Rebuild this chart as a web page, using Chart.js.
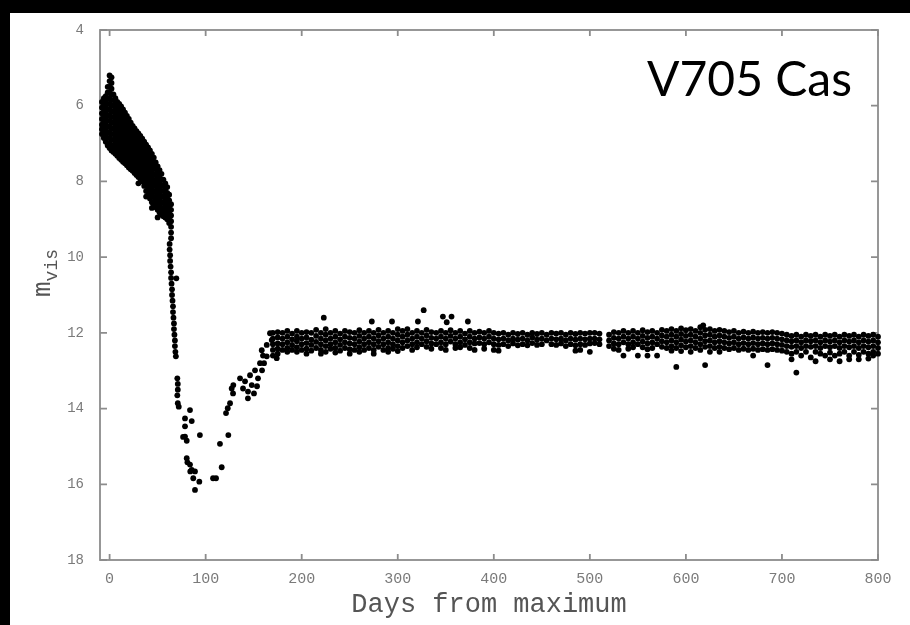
<!DOCTYPE html>
<html><head><meta charset="utf-8">
<script src="https://cdn.jsdelivr.net/npm/chart.js@4.4.1/dist/chart.umd.min.js"></script>
<style>
html,body{margin:0;padding:0;background:#000;width:910px;height:625px;overflow:hidden;}
#wrap{position:absolute;left:10px;top:13px;width:900px;height:612px;background:#fff;}
canvas{display:block;}
</style></head><body>
<div id="wrap"><canvas id="c" width="900" height="612"></canvas></div>
<script>
// ---- tick labels ----
const xTicks = [0, 100, 200, 300, 400, 500, 600, 700, 800];
const yTicks = [4, 6, 8, 10, 12, 14, 16, 18];
const xTitle = 'Days from maximum';
const yTitleMain = 'm';
const yTitleSub = 'vis';
const starName = 'V705 Cas';

// ---- early bright phase: day columns and magnitudes ----
const earlyDays = [-8,-6,-4,-2,0,2,4,6,8,10,12,14,16,18,20,22,24,26,28,30,32,34,36,38,40,42,44,46,48,50,52,54,56,58,60,62,64];
const earlyMags = [
  [5.9,6.05,6.2,6.35,6.5,6.62,6.75],
  [5.8,5.95,6.1,6.25,6.4,6.55,6.7,6.85],
  [5.75,5.9,6.05,6.2,6.35,6.5,6.65,6.8,6.95],
  [5.5,5.65,5.8,5.95,6.1,6.25,6.4,6.55,6.7,6.85,7.05],
  [5.2,5.35,5.5,5.65,5.8,5.95,6.1,6.25,6.4,6.55,6.7,6.85,7.0,7.12],
  [5.25,5.4,5.55,5.7,5.85,6.0,6.15,6.3,6.45,6.6,6.75,6.9,7.05,7.18],
  [5.7,5.85,6.0,6.15,6.3,6.45,6.6,6.75,6.9,7.05,7.22],
  [5.8,5.95,6.1,6.25,6.4,6.55,6.7,6.85,7.0,7.15,7.27],
  [5.9,6.05,6.2,6.35,6.5,6.65,6.8,6.95,7.1,7.2,7.32],
  [5.95,6.1,6.25,6.4,6.55,6.7,6.85,7.0,7.15,7.25,7.38],
  [6.02,6.17,6.32,6.47,6.62,6.77,6.92,7.07,7.22,7.32,7.43],
  [6.1,6.25,6.4,6.55,6.7,6.85,7.0,7.15,7.3,7.48],
  [6.18,6.33,6.48,6.63,6.78,6.93,7.08,7.23,7.38,7.52],
  [6.27,6.42,6.57,6.72,6.87,7.02,7.17,7.32,7.45,7.57],
  [6.35,6.5,6.65,6.8,6.95,7.1,7.25,7.4,7.52,7.63],
  [6.45,6.6,6.75,6.9,7.05,7.2,7.35,7.5,7.68],
  [6.53,6.68,6.83,6.98,7.13,7.28,7.43,7.58,7.72],
  [6.6,6.75,6.9,7.05,7.2,7.35,7.5,7.65,7.78],
  [6.67,6.82,6.97,7.12,7.27,7.42,7.57,7.72,7.83],
  [6.73,6.88,7.03,7.18,7.33,7.48,7.63,7.78,7.88,8.05],
  [6.8,6.95,7.1,7.25,7.4,7.55,7.7,7.85,7.93],
  [6.87,7.02,7.17,7.32,7.47,7.62,7.77,7.9,8.0],
  [6.95,7.1,7.25,7.4,7.55,7.7,7.85,8.0,8.12],
  [7.03,7.18,7.33,7.48,7.63,7.78,7.93,8.08,8.25,8.4],
  [7.1,7.25,7.4,7.55,7.7,7.85,8.0,8.15,8.35],
  [7.18,7.33,7.48,7.63,7.78,7.93,8.08,8.23,8.45],
  [7.27,7.42,7.57,7.72,7.87,8.02,8.17,8.32,8.55,8.7],
  [7.37,7.52,7.67,7.82,7.97,8.12,8.27,8.42,8.62],
  [7.5,7.65,7.8,7.95,8.1,8.25,8.4,8.55,8.68],
  [7.6,7.75,7.9,8.05,8.2,8.35,8.5,8.65,8.75,8.95],
  [7.7,7.85,8.0,8.15,8.3,8.45,8.6,8.72,8.82],
  [7.8,7.95,8.1,8.25,8.4,8.55,8.7,8.88],
  [7.95,8.1,8.25,8.4,8.55,8.7,8.82,8.92],
  [8.05,8.2,8.35,8.5,8.65,8.8,8.95],
  [8.15,8.3,8.45,8.6,8.75,8.9,9.0],
  [8.35,8.5,8.65,8.8,8.95,9.1],
  [8.6,8.75,8.9,9.05,9.2,9.35,9.5]
];

// ---- steep decline into the dust dip ----
const declineDays = [62.5,62.5,63,63,63.5,64,64,64.5,65,65,65.5,66,66,66.5,67,67,67.5,68,68,68.5,69,69.5];
const declineMags = [9.65,9.8,9.95,10.1,10.25,10.4,10.55,10.7,10.85,11.0,11.15,11.3,11.45,11.6,11.75,11.9,12.05,12.2,12.35,12.5,12.62,10.56];

// ---- deep minimum (scattered) ----
const dipDays = [70.5,71,71,70.5,71,72,76.5,78.5,78.5,83.7,85.5,94,78.5,80.3,80.3,81,83.7,85.5,84,88.9,87.1,93.4,88.9,107.7,110.8,116.7,114.9,123.6,121.2,123,125.4,127.1,128.8];
const dipMags = [13.2,13.35,13.5,13.65,13.86,13.95,14.75,14.26,14.47,14.04,14.33,14.7,14.74,14.85,15.31,15.42,15.48,15.62,15.66,15.66,15.84,15.93,16.15,15.84,15.84,15.55,14.93,14.7,14.12,13.99,13.86,13.47,13.38];

// ---- recovery to the plateau ----
const riseDays = [128.5,135.8,138.9,141,144.1,144,146.2,148,150.3,151.4,153.5,154.5,156.6,158.4,158.7,159.7,160.8,163.6,163.6,167,168.8,174];
const riseMags = [13.6,13.2,13.47,13.28,13.55,13.73,13.12,13.38,13.6,12.99,13.41,13.2,12.8,12.46,12.99,12.6,12.8,12.32,12.62,12.01,12.19,12.67];

// ---- long plateau: day columns and magnitudes ----
const plateauDays = [170,175,180,185,190,195,200,205,210,215,220,225,230,235,240,245,250,255,260,265,270,275,280,285,290,295,300,
  305,310,315,320,325,330,335,340,345,350,355,360,365,370,375,380,385,390,395,400,
  405,410,415,420,425,430,435,440,445,450,455,460,465,470,475,480,485,490,495,500,505,510,
  520,525,530,535,540,545,550,555,560,565,570,575,580,585,590,595,600,605,610,615,620,625,630,635,640,645,650,655,660,665,670,675,680,685,690,695,700,
  705,710,715,720,725,730,735,740,745,750,755,760,765,770,775,780,785,790,795,800];
const plateauMags = [
  [12.0,12.15,12.3,12.45,12.6],[11.98,12.12,12.28,12.42,12.55],[12.0,12.15,12.3,12.45],[11.95,12.1,12.25,12.4,12.5],
  [12.02,12.17,12.32,12.45],[11.95,12.1,12.22,12.38,12.5],[12.0,12.15,12.3,12.45],[11.98,12.12,12.27,12.42,12.55],
  [12.0,12.18,12.32,12.47],[11.92,12.08,12.24,12.4],[12.0,12.15,12.3,12.45,12.55],[11.9,12.05,12.2,12.35,12.5],
  [12.0,12.15,12.3,12.42],[11.95,12.1,12.25,12.4,12.52],[12.02,12.17,12.32,12.47],[11.95,12.1,12.25,12.4],
  [11.98,12.13,12.28,12.43,12.55],[12.0,12.15,12.3,12.45],[11.93,12.08,12.23,12.38,12.5],[12.0,12.15,12.3,12.45],
  [11.95,12.1,12.25,12.4],[12.0,12.15,12.3,12.45,12.55],[11.92,12.07,12.22,12.37],[12.0,12.15,12.3,12.45],
  [11.95,12.1,12.25,12.4,12.5],[12.0,12.15,12.3,12.42],[11.9,12.05,12.2,12.35,12.48],
  [11.95,12.1,12.25,12.4],[11.9,12.05,12.2,12.35],[12.0,12.15,12.3,12.45],[11.95,12.1,12.25,12.38],[12.0,12.15,12.3],
  [11.92,12.07,12.22,12.37],[11.98,12.13,12.28,12.42],[12.0,12.15,12.3],[11.95,12.1,12.25,12.4],[12.0,12.15,12.3,12.45],
  [11.93,12.08,12.23],[12.0,12.15,12.3,12.4],[11.95,12.1,12.25,12.38],[12.02,12.17,12.32],[11.95,12.1,12.25,12.4],
  [12.0,12.15,12.28,12.45],[11.97,12.12,12.27],[12.0,12.15,12.3,12.42],[11.95,12.1,12.25],[12.0,12.15,12.3,12.45],
  [12.02,12.17,12.32,12.47],[12.0,12.15,12.3],[12.05,12.2,12.35],[12.0,12.15,12.28],[12.03,12.18,12.33],
  [12.0,12.15,12.3],[12.05,12.2,12.33],[12.0,12.12,12.27],[12.03,12.18,12.32],[12.0,12.15,12.3],[12.05,12.2],
  [12.0,12.15,12.3],[12.02,12.17,12.32],[12.0,12.15,12.28],[12.05,12.2,12.35],[12.0,12.15,12.3],
  [12.03,12.18,12.33,12.47],[12.0,12.15,12.3,12.45],[12.02,12.17,12.32],[12.0,12.15,12.28,12.5],
  [12.0,12.15,12.27],[12.02,12.17,12.3],
  [12.05,12.2,12.35],[11.98,12.13,12.28,12.42],[12.0,12.15,12.3,12.45],[11.95,12.1,12.25,12.6],[12.0,12.15,12.3,12.42],
  [11.95,12.1,12.25,12.38],[12.0,12.15,12.3,12.6],[11.93,12.08,12.23,12.38],[11.98,12.13,12.28,12.43,12.6],
  [11.95,12.1,12.25,12.4],[12.0,12.15,12.3,12.6],[11.92,12.07,12.22,12.37],[11.95,12.1,12.25,12.4],
  [11.9,12.05,12.2,12.35,12.47],[11.95,12.1,12.25,12.4,12.9],[11.88,12.03,12.18,12.33,12.48],[11.93,12.08,12.23,12.38],
  [11.9,12.05,12.2,12.35,12.5],[11.95,12.1,12.25,12.4],[11.85,12.0,12.15,12.3,12.45],[11.92,12.07,12.22,12.37,12.85],
  [11.9,12.05,12.2,12.35,12.5],[11.95,12.1,12.25,12.4],[11.92,12.07,12.22,12.37,12.5],[11.95,12.1,12.25,12.4],
  [11.98,12.13,12.28,12.43],[11.95,12.1,12.25,12.4],[12.0,12.15,12.3,12.45],[11.97,12.12,12.27,12.42],
  [12.0,12.15,12.3,12.45],[11.97,12.12,12.27,12.42,12.6],[12.0,12.15,12.3,12.45],[11.98,12.13,12.28,12.43],
  [12.0,12.15,12.3,12.45,12.85],[11.98,12.13,12.28,12.43],[12.0,12.15,12.3,12.45],[12.02,12.17,12.32,12.47],
  [12.05,12.2,12.35,12.5],[12.08,12.22,12.37,12.55,12.7],[12.05,12.2,12.35,12.5,13.05],[12.1,12.25,12.4,12.6],
  [12.05,12.2,12.35,12.5],[12.08,12.22,12.37,12.65],[12.05,12.2,12.35,12.5,12.75],[12.1,12.25,12.4,12.55],
  [12.05,12.2,12.35,12.6],[12.08,12.23,12.38,12.52,12.7],[12.05,12.2,12.35,12.6],[12.1,12.25,12.4,12.55,12.75],
  [12.05,12.2,12.35,12.5],[12.08,12.23,12.38,12.6,12.7],[12.05,12.2,12.35,12.5],[12.1,12.25,12.4,12.58,12.7],
  [12.05,12.2,12.35,12.5],[12.08,12.23,12.38,12.55,12.68],[12.05,12.2,12.35,12.5,12.6],[12.1,12.25,12.4,12.55]
];

// ---- bright outliers above the plateau ----
const outlierDays = [223,273,294,321,327,347,351,356,373,618];
const outlierMags = [11.6,11.7,11.7,11.7,11.4,11.57,11.72,11.57,11.7,11.8];

// ---- assemble points ----
const pts = [];
earlyDays.forEach((d, i) => earlyMags[i].forEach(m => pts.push({x: d, y: m})));
declineDays.forEach((d, i) => pts.push({x: d, y: declineMags[i]}));
dipDays.forEach((d, i) => pts.push({x: d, y: dipMags[i]}));
riseDays.forEach((d, i) => pts.push({x: d, y: riseMags[i]}));
plateauDays.forEach((d, i) => plateauMags[i].forEach(m => pts.push({x: d, y: m})));
outlierDays.forEach((d, i) => pts.push({x: d, y: outlierMags[i]}));

const FRAME = '#8c8c8c';
const LABEL = '#7a7a7a';

const framePlugin = {
  id: 'frame',
  beforeDatasetsDraw(chart) {
    const {ctx, chartArea: a, scales: {x, y}} = chart;
    ctx.save();
    ctx.strokeStyle = FRAME;
    ctx.lineWidth = 1.8;
    ctx.strokeRect(a.left, a.top, a.right - a.left, a.bottom - a.top);
    ctx.beginPath();
    xTicks.forEach(v => {
      const px = x.getPixelForValue(v);
      ctx.moveTo(px, a.bottom); ctx.lineTo(px, a.bottom - 6);
      ctx.moveTo(px, a.top); ctx.lineTo(px, a.top + 6);
    });
    yTicks.forEach(v => {
      const py = y.getPixelForValue(v);
      ctx.moveTo(a.left, py); ctx.lineTo(a.left + 7, py);
      ctx.moveTo(a.right, py); ctx.lineTo(a.right - 7, py);
    });
    ctx.stroke();
    ctx.restore();
  },
  afterDraw(chart) {
    const {ctx, chartArea: a} = chart;
    ctx.save();
    // y-axis title with subscript, rotated
    ctx.translate(a.left - 50, (a.top + a.bottom) / 2 - 12);
    ctx.rotate(-Math.PI / 2);
    ctx.fillStyle = '#555';
    ctx.textBaseline = 'alphabetic';
    ctx.textAlign = 'left';
    ctx.font = '26px "Liberation Mono", monospace';
    ctx.fillText(yTitleMain, -14, 0);
    const mw = ctx.measureText(yTitleMain).width;
    ctx.font = '18px "Liberation Mono", monospace';
    ctx.fillText(yTitleSub, -14 + mw, 7);
    ctx.restore();
    // star label inside the plot
    ctx.save();
    ctx.fillStyle = '#000';
    ctx.font = '48px Lato, "Open Sans", sans-serif';
    ctx.textAlign = 'right';
    ctx.textBaseline = 'alphabetic';
    ctx.fillText(starName, a.right - 26, a.top + 66);
    ctx.restore();
  }
};

new Chart(document.getElementById('c'), {
  type: 'scatter',
  data: {
    datasets: [{
      label: starName,
      data: pts,
      backgroundColor: '#000',
      borderWidth: 0,
      pointRadius: 2.9,
      pointHoverRadius: 2.9,
      clip: false
    }]
  },
  options: {
    responsive: false,
    devicePixelRatio: 1,
    animation: false,
    events: [],
    layout: { padding: { left: 0, top: 17, right: 32, bottom: 0 } },
    plugins: { legend: { display: false }, tooltip: { enabled: false }, title: { display: false } },
    scales: {
      x: {
        type: 'linear', min: -10, max: 800,
        afterBuildTicks: s => { s.ticks = xTicks.map(v => ({ value: v })); },
        afterFit: s => { s.height = 65; },
        grid: { display: false },
        border: { display: false },
        ticks: { color: LABEL, padding: 2, maxRotation: 0, autoSkip: false,
                 font: { family: '"Liberation Mono", monospace', size: 15 } },
        title: { display: true, text: xTitle, color: '#555',
                 font: { family: '"Liberation Mono", monospace', size: 27 },
                 padding: { top: 0, bottom: 4 } }
      },
      y: {
        type: 'linear', min: 4, max: 18, reverse: true,
        afterBuildTicks: s => { s.ticks = yTicks.map(v => ({ value: v })); },
        afterFit: s => { s.width = 90; },
        grid: { display: false },
        border: { display: false },
        ticks: { color: LABEL, padding: 8, autoSkip: false,
                 font: { family: '"Liberation Mono", monospace', size: 14 } },
        title: { display: false }
      }
    }
  },
  plugins: [framePlugin]
});
</script>
</body></html>
